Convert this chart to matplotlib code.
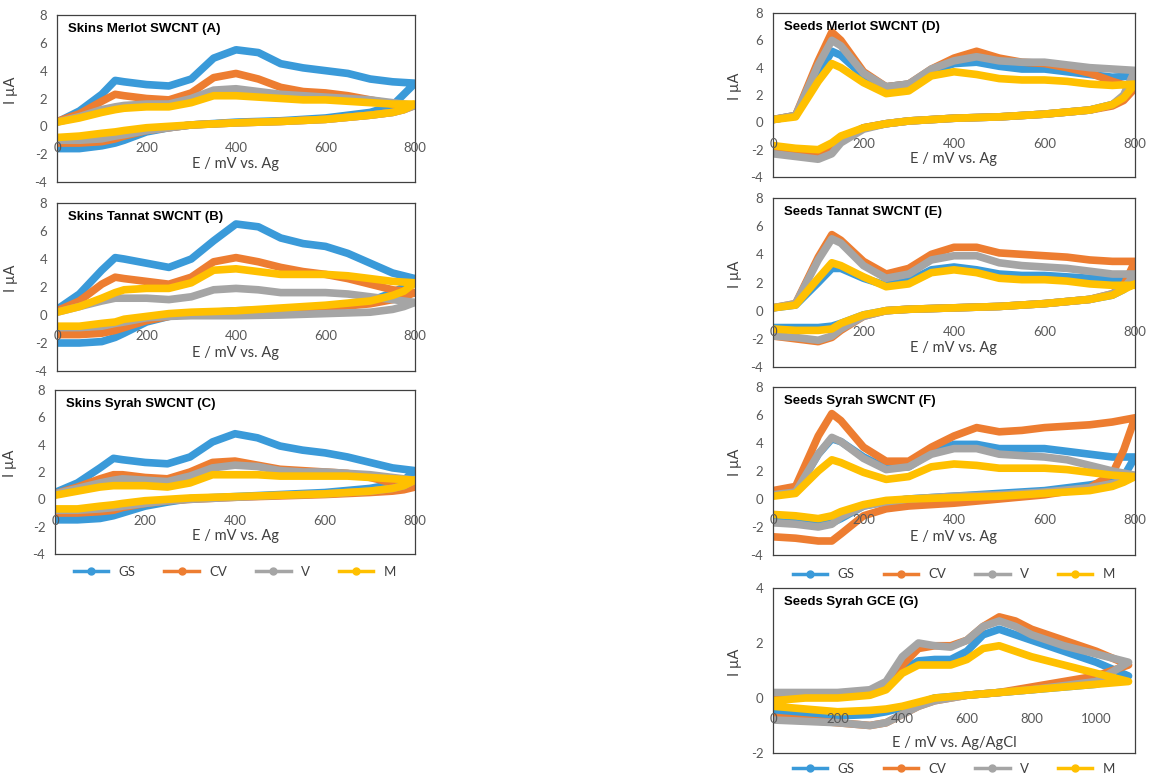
import matplotlib
matplotlib.use("Agg")
import matplotlib.pyplot as plt
from matplotlib.lines import Line2D

plt.rcParams['font.family'] = ['Lato', 'DejaVu Sans']
plt.rcParams['axes.unicode_minus'] = False

series = ["GS", "CV", "V", "M"]
colors = ["#3A9AD9", "#ED7D31", "#A5A5A5", "#FFC000"]

# potential grids (mV): forward (anodic) scan and reverse scan
x_fwd = [0, 50, 100, 130, 150, 200, 250, 300, 350, 400, 450, 500, 550, 600, 650, 700, 750, 800]
x_rev = [800, 775, 750, 700, 600, 500, 400, 300, 250, 200, 150, 130, 100, 50, 0]
g_fwd = [0, 100, 200, 300, 350, 400, 450, 500, 550, 600, 650, 700, 750, 800, 900, 1000, 1100]
g_rev = g_fwd[::-1]

# (A) Skins Merlot
A_fwd = {
    "GS": [0.3, 1.1, 2.3, 3.3, 3.2, 3.0, 2.9, 3.4, 4.9, 5.5, 5.3, 4.5, 4.2, 4.0, 3.8, 3.4, 3.2, 3.1],
    "CV": [0.35, 0.9, 1.8, 2.3, 2.2, 2.0, 1.9, 2.4, 3.5, 3.8, 3.4, 2.8, 2.5, 2.4, 2.2, 1.9, 1.6, 1.5],
    "V":  [0.3, 0.7, 1.2, 1.4, 1.5, 1.6, 1.6, 2.0, 2.6, 2.7, 2.5, 2.3, 2.2, 2.1, 2.0, 1.9, 1.7, 1.5],
    "M":  [0.3, 0.6, 1.0, 1.2, 1.3, 1.4, 1.4, 1.7, 2.2, 2.2, 2.1, 2.0, 1.9, 1.9, 1.8, 1.7, 1.6, 1.6],
}
A_rev = {
    "GS": [3.1, 2.3, 1.5, 1.0, 0.6, 0.4, 0.3, 0.1, -0.1, -0.4, -1.0, -1.2, -1.4, -1.6, -1.6],
    "CV": [1.5, 1.2, 1.0, 0.8, 0.5, 0.35, 0.25, 0.1, -0.1, -0.3, -0.7, -0.9, -1.1, -1.2, -1.2],
    "V":  [1.5, 1.2, 1.0, 0.8, 0.5, 0.35, 0.25, 0.1, -0.1, -0.3, -0.6, -0.7, -0.9, -1.0, -1.0],
    "M":  [1.6, 1.2, 1.0, 0.8, 0.5, 0.35, 0.25, 0.1, 0.0, -0.1, -0.3, -0.4, -0.5, -0.7, -0.8],
}
# (B) Skins Tannat
B_fwd = {
    "GS": [0.4, 1.5, 3.2, 4.1, 4.0, 3.7, 3.4, 4.0, 5.3, 6.5, 6.3, 5.5, 5.1, 4.9, 4.4, 3.7, 3.0, 2.6],
    "CV": [0.3, 1.0, 2.2, 2.7, 2.6, 2.4, 2.2, 2.7, 3.8, 4.1, 3.8, 3.4, 3.1, 2.9, 2.6, 2.2, 1.8, 1.6],
    "V":  [0.2, 0.6, 1.0, 1.2, 1.2, 1.2, 1.1, 1.3, 1.8, 1.9, 1.8, 1.6, 1.6, 1.6, 1.5, 1.3, 1.1, 0.9],
    "M":  [0.2, 0.6, 1.2, 1.6, 1.8, 1.9, 1.9, 2.3, 3.2, 3.3, 3.1, 2.9, 2.9, 2.9, 2.8, 2.6, 2.4, 2.3],
}
B_rev = {
    "GS": [2.6, 2.0, 1.6, 1.0, 0.6, 0.4, 0.3, 0.1, -0.1, -0.5, -1.3, -1.6, -1.9, -2.0, -2.0],
    "CV": [1.6, 1.3, 1.1, 0.8, 0.5, 0.35, 0.25, 0.1, -0.1, -0.4, -0.9, -1.1, -1.3, -1.4, -1.4],
    "V":  [0.9, 0.6, 0.4, 0.2, 0.1, 0.0, -0.05, -0.05, -0.1, -0.2, -0.5, -0.6, -0.8, -0.9, -0.9],
    "M":  [2.3, 1.7, 1.4, 1.0, 0.7, 0.5, 0.3, 0.2, 0.1, -0.1, -0.3, -0.5, -0.6, -0.8, -0.8],
}
# (C) Skins Syrah
C_fwd = {
    "GS": [0.5, 1.2, 2.3, 3.0, 2.9, 2.7, 2.6, 3.1, 4.2, 4.8, 4.5, 3.9, 3.6, 3.4, 3.1, 2.7, 2.3, 2.1],
    "CV": [0.4, 0.9, 1.5, 1.8, 1.8, 1.6, 1.5, 2.0, 2.7, 2.8, 2.5, 2.2, 2.1, 2.0, 1.9, 1.6, 1.2, 0.9],
    "V":  [0.4, 0.8, 1.2, 1.4, 1.5, 1.4, 1.3, 1.7, 2.3, 2.5, 2.4, 2.1, 2.0, 2.0, 1.9, 1.8, 1.6, 1.4],
    "M":  [0.3, 0.6, 0.9, 1.0, 1.0, 1.0, 0.9, 1.2, 1.8, 1.8, 1.8, 1.7, 1.7, 1.7, 1.7, 1.6, 1.5, 1.4],
}
C_rev = {
    "GS": [2.1, 1.4, 1.1, 0.8, 0.5, 0.35, 0.2, 0.05, -0.2, -0.5, -1.0, -1.2, -1.4, -1.5, -1.5],
    "CV": [0.9, 0.7, 0.6, 0.5, 0.35, 0.25, 0.15, 0.0, -0.1, -0.3, -0.6, -0.8, -0.9, -1.0, -1.0],
    "V":  [1.4, 1.0, 0.8, 0.6, 0.4, 0.3, 0.15, 0.0, -0.1, -0.3, -0.5, -0.6, -0.7, -0.8, -0.8],
    "M":  [1.4, 1.0, 0.8, 0.6, 0.4, 0.3, 0.2, 0.1, 0.0, -0.1, -0.3, -0.4, -0.5, -0.7, -0.7],
}
# (D) Seeds Merlot
D_fwd = {
    "GS": [0.2, 0.5, 3.5, 5.2, 4.9, 3.4, 2.6, 2.8, 3.7, 4.3, 4.4, 4.1, 3.9, 3.9, 3.7, 3.5, 3.3, 3.4],
    "CV": [0.2, 0.5, 4.5, 6.6, 6.0, 3.7, 2.6, 2.8, 3.9, 4.7, 5.2, 4.7, 4.4, 4.3, 4.0, 3.6, 3.0, 2.5],
    "V":  [0.2, 0.5, 4.2, 6.0, 5.6, 3.6, 2.6, 2.8, 3.9, 4.5, 4.8, 4.5, 4.4, 4.4, 4.2, 4.0, 3.9, 3.8],
    "M":  [0.2, 0.4, 3.0, 4.3, 4.0, 2.9, 2.1, 2.3, 3.4, 3.7, 3.5, 3.2, 3.1, 3.1, 3.0, 2.8, 2.7, 2.8],
}
D_rev = {
    "GS": [3.4, 1.8, 1.3, 0.9, 0.6, 0.4, 0.3, 0.1, -0.1, -0.4, -1.2, -1.8, -2.2, -2.1, -2.0],
    "CV": [2.5, 1.6, 1.2, 0.9, 0.6, 0.4, 0.3, 0.1, -0.1, -0.4, -1.3, -2.0, -2.4, -2.2, -2.1],
    "V":  [3.8, 2.0, 1.3, 0.9, 0.6, 0.4, 0.3, 0.1, -0.1, -0.5, -1.5, -2.3, -2.7, -2.5, -2.3],
    "M":  [2.8, 1.8, 1.3, 0.9, 0.6, 0.4, 0.3, 0.1, -0.1, -0.4, -1.0, -1.5, -2.0, -1.9, -1.7],
}
# (E) Seeds Tannat
E_fwd = {
    "GS": [0.2, 0.4, 2.0, 3.0, 3.0, 2.3, 1.8, 2.1, 2.9, 3.1, 2.9, 2.6, 2.5, 2.5, 2.4, 2.3, 2.2, 2.2],
    "CV": [0.2, 0.5, 3.8, 5.4, 5.0, 3.5, 2.6, 3.0, 4.0, 4.5, 4.5, 4.1, 4.0, 3.9, 3.8, 3.6, 3.5, 3.5],
    "V":  [0.2, 0.5, 3.6, 5.1, 4.8, 3.2, 2.3, 2.6, 3.6, 3.9, 3.9, 3.4, 3.2, 3.1, 3.0, 2.8, 2.6, 2.6],
    "M":  [0.2, 0.4, 2.3, 3.4, 3.2, 2.4, 1.7, 1.9, 2.7, 2.9, 2.7, 2.3, 2.2, 2.2, 2.1, 1.9, 1.8, 1.8],
}
E_rev = {
    "GS": [2.2, 1.5, 1.1, 0.8, 0.5, 0.3, 0.2, 0.1, 0.0, -0.3, -0.9, -1.1, -1.2, -1.2, -1.2],
    "CV": [3.5, 1.8, 1.2, 0.8, 0.5, 0.3, 0.2, 0.1, 0.0, -0.4, -1.4, -1.9, -2.2, -2.0, -1.8],
    "V":  [2.6, 1.6, 1.2, 0.8, 0.5, 0.3, 0.2, 0.1, 0.0, -0.4, -1.3, -1.8, -2.1, -1.9, -1.8],
    "M":  [1.9, 1.5, 1.1, 0.8, 0.5, 0.3, 0.2, 0.1, 0.0, -0.3, -0.9, -1.3, -1.4, -1.4, -1.3],
}
# (F) Seeds Syrah
F_fwd = {
    "GS": [0.3, 0.5, 3.2, 4.3, 4.1, 3.0, 2.2, 2.3, 3.3, 3.9, 3.9, 3.6, 3.6, 3.6, 3.4, 3.2, 3.0, 3.0],
    "CV": [0.6, 0.9, 4.5, 6.1, 5.6, 3.7, 2.7, 2.7, 3.7, 4.5, 5.1, 4.8, 4.9, 5.1, 5.2, 5.3, 5.5, 5.8],
    "V":  [0.3, 0.5, 3.2, 4.4, 4.1, 2.9, 2.1, 2.3, 3.2, 3.6, 3.6, 3.2, 3.1, 3.0, 2.8, 2.4, 2.0, 1.7],
    "M":  [0.2, 0.4, 2.0, 2.8, 2.6, 1.9, 1.4, 1.6, 2.3, 2.5, 2.4, 2.2, 2.2, 2.2, 2.1, 1.9, 1.7, 1.6],
}
F_rev = {
    "GS": [3.0, 1.6, 1.3, 1.0, 0.6, 0.4, 0.2, 0.0, -0.2, -0.5, -1.4, -1.7, -1.8, -1.7, -1.6],
    "CV": [5.8, 3.5, 1.8, 0.8, 0.3, 0.0, -0.3, -0.5, -0.7, -1.2, -2.5, -3.0, -3.0, -2.8, -2.7],
    "V":  [1.7, 1.3, 1.1, 0.8, 0.5, 0.3, 0.2, 0.0, -0.2, -0.5, -1.3, -1.8, -2.0, -1.8, -1.7],
    "M":  [1.6, 1.2, 0.9, 0.6, 0.4, 0.2, 0.1, 0.0, -0.1, -0.4, -0.9, -1.2, -1.4, -1.2, -1.1],
}
# (G) Seeds Syrah on GCE
G_fwd = {
    "GS": [0.1, 0.1, 0.1, 0.2, 0.4, 1.0, 1.35, 1.4, 1.4, 1.7, 2.3, 2.5, 2.3, 2.1, 1.7, 1.3, 0.8],
    "CV": [0.0, 0.1, 0.1, 0.2, 0.5, 1.2, 1.8, 1.9, 1.9, 2.1, 2.6, 2.95, 2.8, 2.5, 2.1, 1.7, 1.2],
    "V":  [0.2, 0.2, 0.2, 0.3, 0.6, 1.5, 2.0, 1.9, 1.85, 2.1, 2.6, 2.8, 2.6, 2.3, 1.9, 1.6, 1.3],
    "M":  [-0.1, 0.0, 0.0, 0.1, 0.3, 0.9, 1.2, 1.2, 1.2, 1.4, 1.8, 1.9, 1.7, 1.5, 1.2, 0.9, 0.6],
}
G_rev = {
    "GS": [0.8, 0.5, 0.4, 0.3, 0.25, 0.2, 0.15, 0.1, 0.05, 0.0, -0.2, -0.35, -0.5, -0.6, -0.65, -0.6, -0.5],
    "CV": [1.2, 0.8, 0.6, 0.4, 0.3, 0.2, 0.15, 0.1, 0.0, -0.1, -0.3, -0.6, -0.9, -1.0, -0.9, -0.8, -0.7],
    "V":  [1.3, 0.6, 0.45, 0.3, 0.25, 0.2, 0.15, 0.1, 0.0, -0.1, -0.3, -0.6, -0.9, -1.0, -0.9, -0.85, -0.8],
    "M":  [0.6, 0.5, 0.4, 0.3, 0.25, 0.2, 0.15, 0.1, 0.05, 0.0, -0.15, -0.3, -0.4, -0.45, -0.5, -0.4, -0.3],
}

W, H = 1149, 776
fig = plt.figure(figsize=(W / 100, H / 100), dpi=100)


def box(x0, y0, x1, y1):
    # pixel box -> figure fraction rect
    return [x0 / W, 1 - y1 / H, (x1 - x0) / W, (y1 - y0) / H]


def panel(rect, title, xf, yf, xr, yr, xmax, ylim, yticks, xticks, xlabel, ylab_x, xlab_y=0.11):
    ax = fig.add_axes(rect)
    for s, c in zip(series, colors):
        ax.plot(xf + xr, yf[s] + yr[s], color=c, lw=5.5,
                solid_capstyle="round", solid_joinstyle="round")
    ax.set_xlim(0, xmax)
    ax.set_ylim(*ylim)
    ax.set_yticks(yticks)
    ax.set_xticks([])
    ax.tick_params(axis="y", length=0, pad=7, labelsize=9.5, labelcolor="#595959")
    for sp in ax.spines.values():
        sp.set_color("#404040")
        sp.set_linewidth(0.9)
    # x axis crosses at I = 0 (one third of the height); labels sit over the curves
    sec = ax.secondary_xaxis(1 / 3)
    sec.set_xticks(xticks)
    sec.tick_params(length=0, pad=11, labelsize=9.5, labelcolor="#595959")
    sec.spines["bottom"].set_visible(False)
    sec.set_zorder(5)
    ax.text(0.5, xlab_y, xlabel, transform=ax.transAxes, ha="center", va="center",
            fontsize=10.5, color="#404040")
    ax.text(0.03, 0.95, title, transform=ax.transAxes, ha="left", va="top",
            fontsize=9.5, fontweight="bold", family="Liberation Sans", zorder=6)
    ax.set_ylabel("I µA", fontsize=10.5, color="#404040")
    ax.yaxis.set_label_coords(ylab_x, 0.55)
    return ax


def legend(ax, y):
    handles = [Line2D([], [], color=c, lw=2.5, marker="o", markersize=5) for c in colors]
    ax.legend(handles, series, loc="center", bbox_to_anchor=(0.5, y), ncol=4,
              frameon=False, fontsize=9.5, handlelength=2.6, columnspacing=2.2,
              labelcolor="#404040", borderpad=0.2)


lt = [-4, -2, 0, 2, 4, 6, 8]
xt = [0, 200, 400, 600, 800]
lab = "E / mV vs. Ag"

panel(box(57, 15, 415, 182), "Skins Merlot SWCNT (A)", x_fwd, A_fwd, x_rev, A_rev,
      800, (-4, 8), lt, xt, lab, -0.11)
panel(box(57, 203, 415, 371), "Skins Tannat SWCNT (B)", x_fwd, B_fwd, x_rev, B_rev,
      800, (-4, 8), lt, xt, lab, -0.11)
axC = panel(box(55, 390, 415, 554), "Skins Syrah SWCNT (C)", x_fwd, C_fwd, x_rev, C_rev,
            800, (-4, 8), lt, xt, lab, -0.105)
legend(axC, -0.11)

panel(box(773, 13, 1135, 177), "Seeds Merlot SWCNT (D)", x_fwd, D_fwd, x_rev, D_rev,
      800, (-4, 8), lt, xt, lab, -0.085)
panel(box(773, 198, 1135, 367), "Seeds Tannat SWCNT (E)", x_fwd, E_fwd, x_rev, E_rev,
      800, (-4, 8), lt, xt, lab, -0.085)
axF = panel(box(773, 387, 1135, 555), "Seeds Syrah SWCNT (F)", x_fwd, F_fwd, x_rev, F_rev,
            800, (-4, 8), lt, xt, lab, -0.085)
legend(axF, -0.115)
axG = panel(box(773, 588, 1135, 753), "Seeds Syrah GCE (G)", g_fwd, G_fwd, g_rev, G_rev,
            1120, (-2, 4), [-2, 0, 2, 4], [0, 200, 400, 600, 800, 1000],
            "E / mV vs. Ag/AgCl", -0.085, xlab_y=0.06)
legend(axG, -0.095)

fig.savefig("out.png", dpi=100)
